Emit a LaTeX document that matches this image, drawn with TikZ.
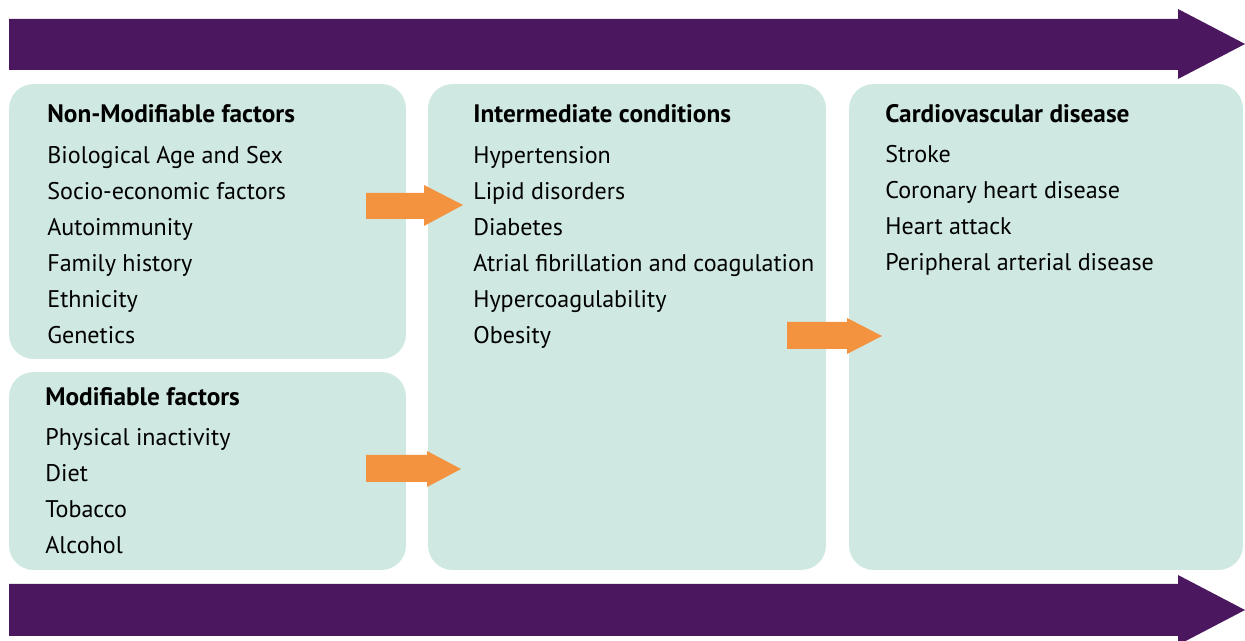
\documentclass[tikz,border=0pt]{standalone}
\usepackage{fontspec}
\setmainfont{PT Sans}
\usetikzlibrary{positioning}
\definecolor{cvpurple}{HTML}{4B185F}
\definecolor{cvteal}{HTML}{CFE8E1}
\definecolor{cvorange}{HTML}{F39340}

\begin{document}
\begin{tikzpicture}[x=0.02cm,y=-0.02cm,
  panel/.style={fill=cvteal, rounded corners=14pt, inner sep=0pt},
  head/.style={anchor=base west, inner sep=0pt, font=\fontsize{14.4}{16}\selectfont\bfseries},
  item/.style={anchor=base west, inner sep=0pt, font=\fontsize{13.7}{16}\selectfont},
  bigarrow/.style={fill=cvpurple},
  smallarrow/.style={fill=cvorange}]
\clip (0,0) rectangle (1245,641);
\useasboundingbox (0,0) rectangle (1245,641);

% timeline arrows
\fill[bigarrow] (9,19) -- (1178,19) -- (1178,9) -- (1245,44) -- (1178,79) -- (1178,70) -- (9,70) -- cycle;
\fill[bigarrow] (9,584) -- (1178,584) -- (1178,575) -- (1245,610) -- (1178,645) -- (1178,636) -- (9,636) -- cycle;

% panels
\node[panel, minimum width=7.94cm, minimum height=5.5cm] (nonmod) at (207.5,221.5) {};
\node[panel, minimum width=7.94cm, minimum height=3.96cm] (mod) at (207.5,471) {};
\node[panel, minimum width=7.96cm, minimum height=9.72cm] (inter) at (627,327) {};
\node[panel, minimum width=7.88cm, minimum height=9.72cm] (cvd) at (1046,327) {};

% non-modifiable
\node[head] (nonmod-t) at (47,123) {Non-Modifiable factors};
\foreach \t [count=\i] in {Biological Age and Sex, Socio-economic factors, Autoimmunity,
  Family history, Ethnicity, Genetics}
  \node[item] (nonmod-\i) at (47,{128+36*\i}) {\t};

% modifiable
\node[head] (mod-t) at (45,406) {Modifiable factors};
\foreach \t [count=\i] in {Physical inactivity, Diet, Tobacco, Alcohol}
  \node[item] (mod-\i) at (45,{410+36*\i}) {\t};

% intermediate
\node[head] (inter-t) at (473,123) {Intermediate conditions};
\foreach \t [count=\i] in {Hypertension, Lipid disorders, Diabetes,
  Atrial fibrillation and coagulation, Hypercoagulability, Obesity}
  \node[item] (inter-\i) at (473,{128+36*\i}) {\t};

% cardiovascular
\node[head] (cvd-t) at (885,123) {Cardiovascular disease};
\foreach \t [count=\i] in {Stroke, Coronary heart disease, Heart attack, Peripheral arterial disease}
  \node[item] (cvd-\i) at (885,{127+36*\i}) {\t};

% orange arrows
\fill[smallarrow] (366,193) -- (424,193) -- (424,185) -- (463,205) -- (424,226) -- (424,219) -- (366,219) -- cycle;
\fill[smallarrow] (366,455) -- (427,455) -- (427,451) -- (461,469) -- (427,487) -- (427,482) -- (366,482) -- cycle;
\fill[smallarrow] (787,322) -- (847,322) -- (847,318) -- (882,336) -- (847,354) -- (847,349) -- (787,349) -- cycle;
\end{tikzpicture}
\end{document}
